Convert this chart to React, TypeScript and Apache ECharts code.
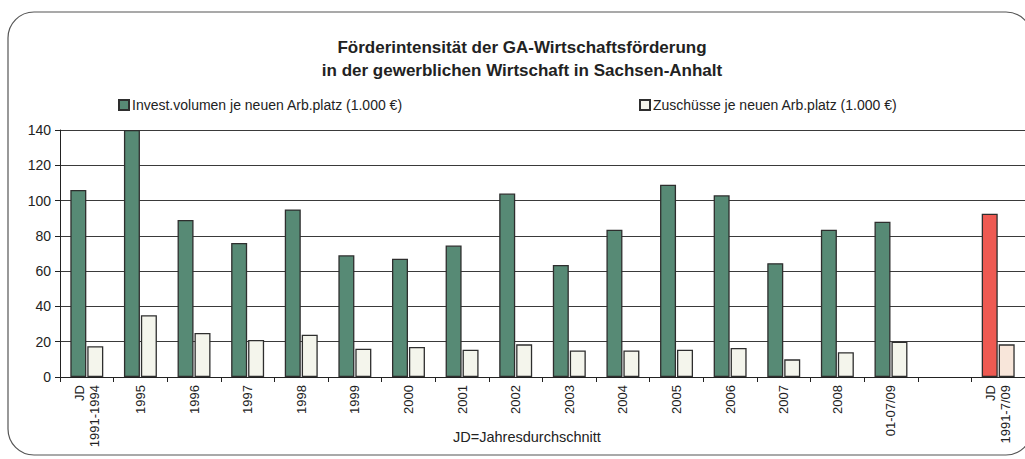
import React, { useEffect, useRef } from "react";
import * as echarts from "echarts";

const categories = [
  "JD\n1991-1994", "1995", "1996", "1997", "1998", "1999", "2000", "2001", "2002",
  "2003", "2004", "2005", "2006", "2007", "2008", "01-07/09", "", "JD\n1991-7/09",
];
const investValues: (number | null)[] = [
  106, 140, 89, 76, 95, 69, 67, 74.5, 104, 63.5, 83.5, 109, 103, 64.5, 83.5, 88, null, 92.5,
];
const zuschussValues: (number | null)[] = [
  17.5, 35, 25, 21, 24, 16, 17, 15.5, 18.5, 15, 15, 15.5, 16.5, 10, 14, 20, null, 18.5,
];
const yTicks = { min: 0, max: 140, interval: 20 };
const seriesNames = [
  "Invest.volumen je neuen Arb.platz (1.000 €)",
  "Zuschüsse je neuen Arb.platz (1.000 €)",
];

const FONT = '"Liberation Sans", Arial, sans-serif';

export default function App() {
  const ref = useRef<HTMLDivElement>(null);
  useEffect(() => {
    if (!ref.current) return;
    const chart = echarts.init(ref.current, undefined, { renderer: "svg" });
    const lastIdx = categories.length - 1;
    const investData = investValues.map((v, i) =>
      i === lastIdx ? { value: v, itemStyle: { color: "#ee5a52" } } : v
    );
    const zuschussData = zuschussValues.map((v, i) =>
      i === lastIdx ? { value: v, itemStyle: { color: "#f8e6da" } } : v
    );
    chart.setOption({
      animation: false,
      backgroundColor: "#ffffff",
      textStyle: { fontFamily: FONT },
      title: {
        text: "Förderintensität der GA-Wirtschaftsförderung\nin der gewerblichen Wirtschaft in Sachsen-Anhalt",
        left: 517,
        top: 31,
        textAlign: "center",
        textStyle: { fontFamily: FONT, fontSize: 17, fontWeight: "bold", color: "#222", lineHeight: 23 },
      },
      legend: [
        {
          data: [seriesNames[0]],
          left: 113,
          top: 93,
          icon: "rect",
          itemWidth: 10,
          itemHeight: 10,
          textStyle: { fontFamily: FONT, fontSize: 14, color: "#222", padding: [0, 0, 0, -2] },
        },
        {
          data: [seriesNames[1]],
          left: 634,
          top: 93,
          icon: "rect",
          itemWidth: 10,
          itemHeight: 10,
          textStyle: { fontFamily: FONT, fontSize: 14, color: "#222", padding: [0, 0, 0, -2] },
        },
      ],
      grid: { left: 60, top: 130, height: 247, width: 967 },
      xAxis: {
        type: "category",
        data: categories,
        axisLine: { lineStyle: { color: "#222", width: 1 } },
        axisTick: { show: true, length: 5, lineStyle: { color: "#222" } },
        axisLabel: {
          rotate: 90,
          interval: 0,
          margin: 8,
          fontFamily: FONT,
          fontSize: 13,
          color: "#222",
          lineHeight: 15,
        },
      },
      yAxis: {
        type: "value",
        min: yTicks.min,
        max: yTicks.max,
        interval: yTicks.interval,
        axisLine: { show: true, lineStyle: { color: "#222", width: 1 } },
        axisTick: { show: true, length: 5, lineStyle: { color: "#222" } },
        axisLabel: { fontFamily: FONT, fontSize: 14, color: "#222", margin: 9 },
        splitLine: { show: true, lineStyle: { color: "#3a3a3a", width: 1 } },
      },
      series: [
        {
          name: seriesNames[0],
          type: "bar",
          data: investData,
          barWidth: 16,
          barGap: "6%",
          itemStyle: { color: "#578a75", borderColor: "#2e2e2e", borderWidth: 1.3 },
        },
        {
          name: seriesNames[1],
          type: "bar",
          data: zuschussData,
          barWidth: 16,
          itemStyle: { color: "#f4f5ec", borderColor: "#2e2e2e", borderWidth: 1.3 },
        },
      ],
      graphic: [
        {
          type: "rect",
          shape: { x: 8, y: 12, width: 1024, height: 443, r: 26 },
          style: { fill: "none", stroke: "#555", lineWidth: 1.2 },
          silent: true,
          z: -1,
        },
        {
          type: "text",
          style: {
            text: "JD=Jahresdurchschnitt",
            x: 453,
            y: 429,
            font: `14.5px ${FONT}`,
            fill: "#222",
          },
        },
      ],
    });
    return () => chart.dispose();
  }, []);
  return (
    <div
      ref={ref}
      style={{ position: "fixed", left: 0, top: 0, width: 1025, height: 459 }}
    />
  );
}
